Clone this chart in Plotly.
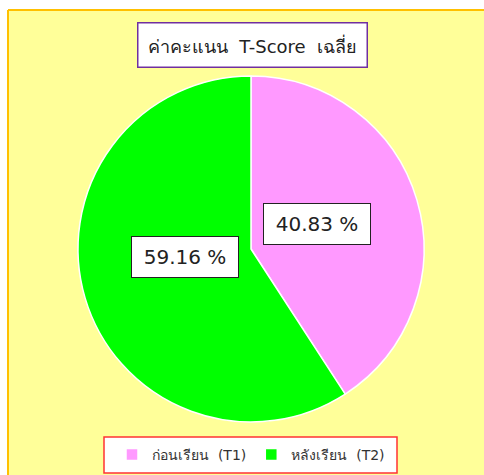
import math
import plotly.graph_objects as go

labels = ["ก่อนเรียน  (T1)", "หลังเรียน  (T2)"]
values = [40.83, 59.16]
value_texts = ["40.83 %", "59.16 %"]
colors = ["#FF99FF", "#00FF00"]
title_text = "ค่าคะแนน  T-Score  เฉลี่ย"

# the page body margin is removed below, so the figure fills the window
W, H = 484, 475


def px(x):
    return x / W


def py(y):
    return 1 - y / H


cx, cy, r = 251, 249, 173  # pie placement in window pixels
label_nudge = [(0, -5), (0, -12)]  # fine pixel offsets for the value boxes

fig = go.Figure()
fig.add_trace(go.Pie(
    labels=labels, values=values, sort=False, direction="clockwise", rotation=0,
    marker=dict(colors=colors, line=dict(color="white", width=1.5)),
    textinfo="none", hoverinfo="label+value",
    domain=dict(x=[px(cx - r), px(cx + r)], y=[py(cy + r), py(cy - r)]),
))

shapes = [
    dict(type="rect", xref="paper", yref="paper", x0=px(8), x1=1.0, y0=0, y1=py(10),
         fillcolor="#FFFF99", line=dict(width=0), layer="below"),
    dict(type="line", xref="paper", yref="paper", x0=px(8), x1=1.0, y0=py(10), y1=py(10),
         line=dict(color="#FFC000", width=2), layer="below"),
    dict(type="line", xref="paper", yref="paper", x0=px(8), x1=px(8), y0=0, y1=py(10),
         line=dict(color="#FFC000", width=2), layer="below"),
    dict(type="rect", xref="paper", yref="paper", x0=px(104), x1=px(397), y0=py(473), y1=py(437),
         fillcolor="white", line=dict(color="#FF3333", width=1.5), layer="below"),
]

annotations = [
    dict(text=title_text, xref="paper", yref="paper", x=px(252), y=py(44.5),
         xanchor="center", yanchor="middle", showarrow=False, width=226, height=41,
         bgcolor="white", bordercolor="#7030A0", borderwidth=1.5,
         font=dict(size=18, color="#222222", family="DejaVu Sans")),
]

total = sum(values)
cum = 0.0
for v, t, (nx, ny) in zip(values, value_texts, label_nudge):
    mid = (cum + v / 2) / total * 2 * math.pi
    cum += v
    lx = cx + 0.4 * r * math.sin(mid) + nx
    ly = cy - 0.4 * r * math.cos(mid) + ny
    annotations.append(dict(
        text=t, xref="paper", yref="paper",
        x=px(lx), y=py(ly), xanchor="center", yanchor="middle", showarrow=False,
        width=104, height=38, bgcolor="white", bordercolor="#222222", borderwidth=1,
        font=dict(size=20, color="#222222", family="DejaVu Sans")))

fig.update_layout(
    width=W, height=H, margin=dict(l=0, r=0, t=0, b=0),
    paper_bgcolor="white", plot_bgcolor="white",
    shapes=shapes, annotations=annotations,
    showlegend=True,
    legend=dict(orientation="h", x=px(251), xanchor="center", y=py(455), yanchor="middle",
                bgcolor="rgba(0,0,0,0)", font=dict(size=14, color="#333333", family="DejaVu Sans"),
                itemclick=False),
)

fig.write_html(
    "out.html",
    config={"displayModeBar": False},
    post_script=(
        "document.body.style.margin='0';"
        "document.documentElement.style.overflow='hidden';"
        "document.body.style.overflow='hidden';"
    ),
)
